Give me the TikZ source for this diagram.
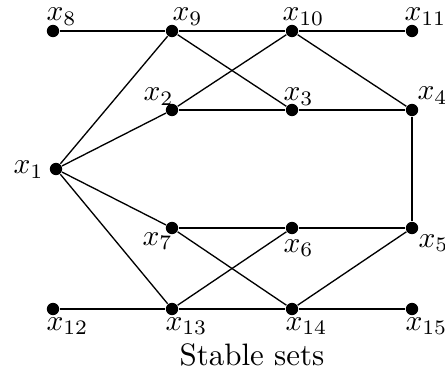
\documentclass[tikz,border=0pt]{standalone}
\begin{document}
\begin{tikzpicture}[x=0.339pt,y=-0.339pt,
  vtx/.style={circle,fill=black,inner sep=0pt,minimum size=4.2pt},
  lbl/.style={anchor=base west,inner sep=0pt},
  edge/.style={line width=0.45pt}]
\useasboundingbox (0,0) rectangle (445,375);
% vertices
\node[vtx] (v8) at (53,31) {};
\node[vtx] (v9) at (172,31) {};
\node[vtx] (v10) at (292,31) {};
\node[vtx] (v11) at (412,31) {};
\node[vtx] (v2) at (172,110) {};
\node[vtx] (v3) at (292,110) {};
\node[vtx] (v4) at (412,110) {};
\node[vtx] (v1) at (56,169) {};
\node[vtx] (v7) at (172,228) {};
\node[vtx] (v6) at (292,228) {};
\node[vtx] (v5) at (412,228) {};
\node[vtx] (v12) at (53,309) {};
\node[vtx] (v13) at (172,309) {};
\node[vtx] (v14) at (292,309) {};
\node[vtx] (v15) at (412,309) {};
% edges
\draw[edge] (v8) -- (v9) -- (v10) -- (v11);
\draw[edge] (v9) -- (v1);
\draw[edge] (v9) -- (v3);
\draw[edge] (v10) -- (v2);
\draw[edge] (v10) -- (v4);
\draw[edge] (v2) -- (v3) -- (v4);
\draw[edge] (v1) -- (v2);
\draw[edge] (v1) -- (v7);
\draw[edge] (v1) -- (v13);
\draw[edge] (v4) -- (v5);
\draw[edge] (v7) -- (v6) -- (v5);
\draw[edge] (v7) -- (v14);
\draw[edge] (v13) -- (v6);
\draw[edge] (v14) -- (v5);
\draw[edge] (v12) -- (v13) -- (v14) -- (v15);
% labels
\node[lbl] (l8) at (46,21) {$x_{8}$};
\node[lbl] (l9) at (172,21) {$x_{9}$};
\node[lbl] (l10) at (282,21) {$x_{10}$};
\node[lbl] (l11) at (404,21) {$x_{11}$};
\node[lbl] (l2) at (143,101) {$x_{2}$};
\node[lbl] (l3) at (283,101) {$x_{3}$};
\node[lbl] (l4) at (417,100) {$x_{4}$};
\node[lbl] (l1) at (13,174) {$x_{1}$};
\node[lbl] (l7) at (142,245) {$x_{7}$};
\node[lbl] (l6) at (283,252) {$x_{6}$};
\node[lbl] (l5) at (418,247) {$x_{5}$};
\node[lbl] (l12) at (46,330) {$x_{12}$};
\node[lbl] (l13) at (165,330) {$x_{13}$};
\node[lbl] (l14) at (285,330) {$x_{14}$};
\node[lbl] (l15) at (405,330) {$x_{15}$};
\node[anchor=base,inner sep=0pt,font=\fontsize{10.5}{12}\selectfont] (cap) at (252,365) {Stable sets};
\end{tikzpicture}
\end{document}
